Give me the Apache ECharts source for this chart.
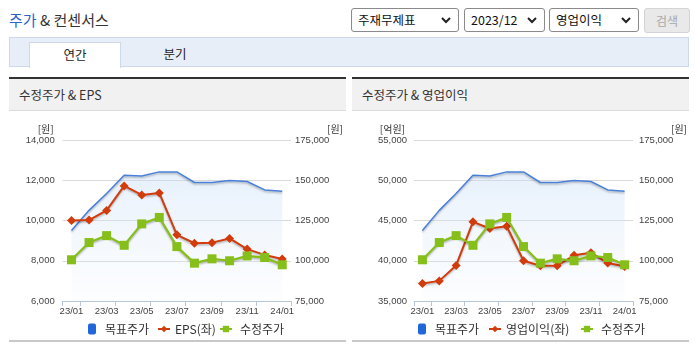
<!DOCTYPE html>
<html>
<head>
<meta charset="utf-8">
<script src="https://cdn.jsdelivr.net/npm/echarts@6/dist/echarts.min.js"></script>
<style>
  html, body { margin:0; padding:0; background:#fff; width:695px; height:349px; overflow:hidden; font-family:"Noto Sans CJK KR","Liberation Sans",sans-serif; }
  .abs { position:absolute; }
  #title { left:9px; top:9px; font-size:15px; color:#333; line-height:22px; white-space:nowrap; }
  #title .b { color:#2b63c7; }
  .sel { position:absolute; top:8px; height:22px; border:1px solid #8a8a8a; border-radius:3px; background:#fff; font-size:12.5px; color:#111; line-height:22px; padding-left:6px; box-sizing:content-box; }
  .sel svg { position:absolute; right:7px; top:7px; }
  #btn { position:absolute; left:644px; top:8px; width:44px; height:23px; background:#e9e9e9; border:1px solid #d4d4d4; border-radius:3px; color:#a8a8a8; font-size:12px; text-align:center; line-height:23px; }
  #tabbar { left:9px; top:37px; width:678px; height:28px; background:#e8eef8; border:1px solid #cdd8ea; }
  #tab1 { left:29px; top:42px; width:90px; height:25px; background:#fff; border:1px solid #cdd8ea; border-bottom:none; font-size:12.5px; color:#222; text-align:center; line-height:24px; }
  #tab2 { left:140px; top:42px; width:70px; height:25px; font-size:12.5px; color:#222; text-align:center; line-height:24px; }
  .phead { position:absolute; top:77px; height:31px; background:#f1f1f1; border-top:2px solid #333; border-bottom:1px solid #dcdcdc; font-size:12.5px; color:#333; line-height:31px; padding-left:10px; box-sizing:content-box; }
  .pfoot { position:absolute; top:340px; height:2px; background:#c8c8c8; }
  .chart { position:absolute; top:111px; height:227px; }
</style>
</head>
<body>
<div id="title" class="abs"><span class="b">주가</span> &amp; 컨센서스</div>

<div class="sel" style="left:351px;width:100px;">주재무제표<svg width="10" height="8" viewBox="0 0 10 8"><polyline points="1,2 5,6 9,2" fill="none" stroke="#222" stroke-width="2"/></svg></div>
<div class="sel" style="left:464px;width:73px;">2023/12<svg width="10" height="8" viewBox="0 0 10 8"><polyline points="1,2 5,6 9,2" fill="none" stroke="#222" stroke-width="2"/></svg></div>
<div class="sel" style="left:549px;width:82px;">영업이익<svg width="10" height="8" viewBox="0 0 10 8"><polyline points="1,2 5,6 9,2" fill="none" stroke="#222" stroke-width="2"/></svg></div>
<div id="btn">검색</div>

<div id="tabbar" class="abs"></div>
<div id="tab1" class="abs">연간</div>
<div id="tab2" class="abs">분기</div>

<div class="phead" style="left:9px;width:327px;">수정주가 &amp; EPS</div>
<div class="phead" style="left:352px;width:327px;">수정주가 &amp; 영업이익</div>
<div class="pfoot" style="left:9px;width:337px;"></div>
<div class="pfoot" style="left:352px;width:337px;"></div>

<div id="c1" class="chart" style="left:9px;width:337px;"></div>
<div id="c2" class="chart" style="left:352px;width:338px;"></div>

<script>
// ---- data ----
const categories = ['23/01','23/02','23/03','23/04','23/05','23/06','23/07','23/08','23/09','23/10','23/11','23/12','24/01'];
const targetPrice = [118800, 131300, 141800, 153100, 152700, 155200, 155200, 148600, 148600, 149800, 149200, 144000, 143200];
const adjPrice = [100600, 111300, 115600, 109600, 122900, 126900, 108800, 98500, 101200, 100000, 103000, 102000, 97500];
const eps = [10000, 10020, 10500, 11720, 11270, 11370, 9290, 8870, 8900, 9110, 8580, 8290, 8090];
const opIncome = [37170, 37500, 39420, 44830, 44000, 44290, 40000, 39380, 39380, 40670, 41000, 39710, 39290];
const leftAxis1 = {min: 6000, max: 14000, interval: 2000, unit: '[원]'};
const leftAxis2 = {min: 35000, max: 55000, interval: 5000, unit: '[억원]'};
const rightAxis = {min: 75000, max: 175000, interval: 25000, unit: '[원]'};
const names1 = ['목표주가', 'EPS(좌)', '수정주가'];
const names2 = ['목표주가', '영업이익(좌)', '수정주가'];

const numFont = '"Liberation Sans", Arial, sans-serif';
const krFont = '"Noto Sans CJK KR", sans-serif';
const BLUE = '#4a80d8', RED = '#d23c0c', GREEN = '#86bf1a';

function build(el, leftCfg, redData, names, g, lg) {
  const chart = echarts.init(document.getElementById(el), null, {renderer: 'canvas'});
  const shadow = {shadowColor: 'rgba(0,0,0,0.28)', shadowBlur: 2, shadowOffsetY: 1.5};
  const legendBase = {top: 207, orient: 'horizontal', selectedMode: true,
    textStyle: {fontFamily: krFont, fontSize: 12, color: '#333'}};
  chart.setOption({
    animation: false,
    grid: {left: g.left, right: g.right, top: 29, bottom: 37},
    legend: [
      Object.assign({}, legendBase, {left: lg[0], data: [{name: names[0], icon: 'roundRect', itemStyle: {color: '#2166d9'}}], itemWidth: 8, itemHeight: 11, textStyle: Object.assign({}, legendBase.textStyle, {padding: [0,0,0,4]})}),
      Object.assign({}, legendBase, {left: lg[1], data: [{name: names[1]}], itemWidth: 12, itemHeight: 8}),
      Object.assign({}, legendBase, {left: lg[2], data: [{name: names[2]}], itemWidth: 12, itemHeight: 8, textStyle: Object.assign({}, legendBase.textStyle, {padding: [0,0,0,3]})})
    ],
    xAxis: {
      type: 'category', data: categories, boundaryGap: true,
      axisLine: {lineStyle: {color: '#b9c6d8', width: 1}},
      axisTick: {show: true, length: 5, lineStyle: {color: '#b9c6d8'}, interval: function (i) { return i === 0 || i % 2 === 1; }},
      axisLabel: {interval: 1, fontFamily: numFont, fontSize: 9.5, color: '#444', margin: 5},
      splitLine: {show: false}
    },
    yAxis: [
      {type: 'value', min: leftCfg.min, max: leftCfg.max, interval: leftCfg.interval, position: 'left',
       name: leftCfg.unit, nameLocation: 'end', nameGap: 11,
       nameTextStyle: {fontFamily: krFont, fontSize: 10, color: '#333', align: 'right', verticalAlign: 'middle', padding: [0, g.lname, 0, 0]},
       axisLine: {show: false}, axisTick: {show: false},
       axisLabel: {fontFamily: numFont, fontSize: 9.5, color: '#444', margin: g.lmargin},
       splitLine: {show: true, lineStyle: {color: '#d9d9d9', width: 1}}},
      {type: 'value', min: rightAxis.min, max: rightAxis.max, interval: rightAxis.interval, position: 'right',
       name: rightAxis.unit, nameLocation: 'end', nameGap: 11,
       nameTextStyle: {fontFamily: krFont, fontSize: 10, color: '#333', align: 'left', verticalAlign: 'middle', padding: [0, 0, 0, g.rname]},
       axisLine: {show: false}, axisTick: {show: false},
       axisLabel: {fontFamily: numFont, fontSize: 9.5, color: '#444', margin: g.rmargin},
       splitLine: {show: false}}
    ],
    series: [
      {name: names[0], type: 'line', yAxisIndex: 1, data: targetPrice, showSymbol: false, symbol: 'none',
       lineStyle: Object.assign({color: BLUE, width: 1.5}, shadow), itemStyle: {color: BLUE},
       areaStyle: {origin: 'start', color: new echarts.graphic.LinearGradient(0, 0, 0, 1, [
         {offset: 0, color: 'rgba(196,220,247,0.6)'}, {offset: 1, color: 'rgba(236,243,252,0.25)'}])},
       z: 2},
      {name: names[1], type: 'line', yAxisIndex: 0, data: redData, symbol: 'diamond', symbolSize: 9,
       lineStyle: Object.assign({color: RED, width: 2}, shadow), itemStyle: {color: RED}, z: 3},
      {name: names[2], type: 'line', yAxisIndex: 1, data: adjPrice, symbol: 'rect', symbolSize: 9,
       lineStyle: Object.assign({color: GREEN, width: 2.2}, shadow), itemStyle: {color: GREEN}, z: 4}
    ]
  });
}

build('c1', leftAxis1, eps, names1,
  {left: 53.7, right: 53.7, lmargin: 8, rmargin: 4, lname: 9, rname: 36},
  [74, 143, 205]);
build('c2', leftAxis2, opIncome, names2,
  {left: 62, right: 55, lmargin: 7, rmargin: 6, lname: 9, rname: 38},
  [61, 131, 223]);
</script>
</body>
</html>
